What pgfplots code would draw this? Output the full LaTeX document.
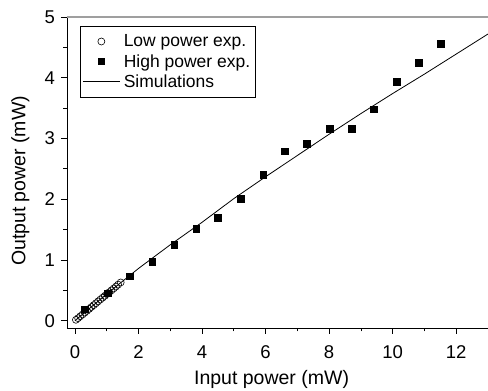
\documentclass[border=0pt]{standalone}
\usepackage{fontspec}
\setmainfont{Liberation Sans}
\usepackage{pgfplots}
\pgfplotsset{compat=1.18}
\pgfplotsset{
  legmark/.style={legend image code/.code={\draw[##1] plot coordinates {(18.5pt,0pt)};}},
  legline/.style={legend image code/.code={\draw[##1] (0pt,0pt) -- (37pt,0pt);}},
}
\begin{document}
\begin{tikzpicture}
\begin{axis}[
  at={(0pt,0pt)}, anchor=south west,
  scale only axis, width=421pt, height=311pt,
  xmin=-0.25, xmax=13.0, ymin=-0.12, ymax=5,
  axis x line*=bottom, axis y line*=left,
  axis line style={line width=0.8pt, black},
  xtick={0,2,...,12}, ytick={0,1,...,5},
  minor x tick num=1, minor y tick num=1,
  tick align=outside,
  major tick length=6pt, minor tick length=3.5pt,
  every tick/.style={black, line width=0.8pt},
  /pgf/number format/assume math mode=true,
  tick label style={font=\fontsize{18.5}{21}\selectfont},
  xticklabel style={anchor=base, inner sep=0pt, yshift=-25pt},
  yticklabel style={anchor=east, inner sep=0pt, xshift=-6pt},
  label style={font=\fontsize{19.5}{22}\selectfont},
  xlabel={Input power (mW)},
  ylabel={Output power (mW)},
  xlabel style={at={([yshift=-57pt]axis description cs:0.486,0)}, anchor=base, inner sep=0pt},
  ylabel style={at={([xshift=-41.5pt]axis description cs:0,0.473)}, anchor=base, inner sep=0pt},
  clip=false,
  extra description/.code={\draw[gray!75, line width=1.2pt] (axis description cs:0,1) -- (axis description cs:1,1);},
  legend cell align=left,
  legend style={at={(axis description cs:0.031,0.971)}, anchor=north west,
    draw=black, line width=0.8pt, fill=white,
    inner xsep=2pt, inner ysep=6.5pt, row sep=2.5pt,
    nodes={inner xsep=3.5pt, inner ysep=1.8pt, font=\fontsize{17.5}{20}\selectfont}},
]
\addplot[only marks, mark=o, mark size=3.5pt, mark options={line width=0.6pt, black}, legmark]
coordinates {
(0.03,0.015)(0.10,0.042)(0.17,0.074)(0.24,0.103)(0.31,0.134)(0.38,0.163)
(0.45,0.195)(0.52,0.226)(0.59,0.256)(0.66,0.287)(0.73,0.318)(0.80,0.349)
(0.87,0.379)(0.94,0.409)(1.01,0.440)(1.08,0.470)(1.15,0.500)(1.22,0.531)
(1.29,0.562)(1.36,0.594)(1.44,0.630)
};
\addlegendentry{Low power exp.\hspace{14pt}}
\addplot[only marks, mark=square*, mark size=3.3pt, mark options={black, draw=black}, legmark]
coordinates {
(0.31,0.19)(1.03,0.45)(1.73,0.73)(2.43,0.97)(3.12,1.25)(3.82,1.51)(4.50,1.70)
(5.21,2.01)(5.92,2.40)(6.61,2.79)(7.30,2.91)(8.01,3.16)(8.71,3.16)(9.41,3.48)
(10.12,3.93)(10.81,4.25)(11.51,4.56)
};
\addlegendentry{High power exp.}
\addplot[black, line width=0.8pt, no marks, legline]
coordinates {
(0,0)(1,0.44)(2,0.86)(3,1.25)(4,1.62)(5,2.01)(6,2.37)(7,2.72)(8,3.07)
(9,3.41)(10,3.74)(11,4.06)(12,4.39)(13,4.72)
};
\addlegendentry{Simulations}
\end{axis}
\pgfresetboundingbox
\path[use as bounding box] (-67pt,-63pt) rectangle (421pt,328pt);
\end{tikzpicture}
\end{document}
